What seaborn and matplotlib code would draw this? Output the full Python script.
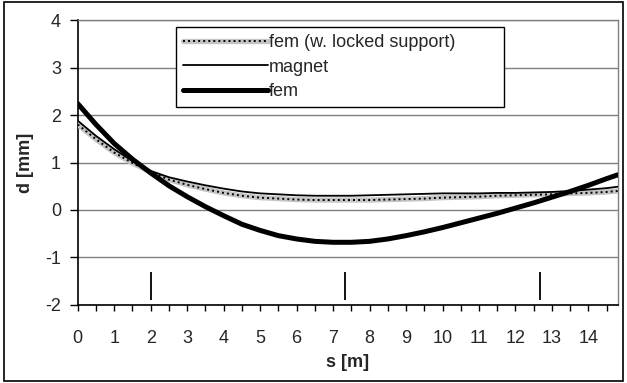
import matplotlib
matplotlib.use("Agg")
import matplotlib.pyplot as plt
from matplotlib.patches import Rectangle
from matplotlib.lines import Line2D
from matplotlib.legend_handler import HandlerTuple
from matplotlib.ticker import MultipleLocator
import numpy as np
import pandas as pd
import seaborn as sns

# ---- data ----
s = [0, 0.5, 1, 1.5, 2, 2.5, 3, 3.5, 4, 4.5, 5, 5.5, 6, 6.5, 7, 7.5, 8, 8.5,
     9, 9.5, 10, 10.5, 11, 11.5, 12, 12.5, 13, 13.5, 14, 14.5, 14.8]
fem = [2.24, 1.80, 1.40, 1.07, 0.78, 0.51, 0.28, 0.07, -0.12, -0.30, -0.43,
       -0.54, -0.61, -0.66, -0.68, -0.68, -0.66, -0.61, -0.54, -0.46, -0.37,
       -0.27, -0.17, -0.07, 0.04, 0.15, 0.27, 0.39, 0.52, 0.66, 0.74]
magnet = [1.88, 1.56, 1.28, 1.03, 0.82, 0.69, 0.60, 0.52, 0.45, 0.39, 0.35,
          0.33, 0.31, 0.30, 0.30, 0.30, 0.31, 0.32, 0.33, 0.34, 0.35, 0.35,
          0.35, 0.36, 0.36, 0.37, 0.38, 0.40, 0.43, 0.46, 0.49]
fem_locked = [1.80, 1.49, 1.21, 0.99, 0.80, 0.64, 0.53, 0.44, 0.36, 0.30,
              0.26, 0.24, 0.22, 0.21, 0.21, 0.21, 0.21, 0.22, 0.23, 0.24,
              0.26, 0.27, 0.28, 0.30, 0.31, 0.32, 0.33, 0.35, 0.36, 0.38, 0.40]
supports = [2.0, 7.32, 12.68]
support_lo, support_hi = -1.9, -1.3
xticks = list(range(0, 15))
yticks = [-2, -1, 0, 1, 2, 3, 4]
labels = ["fem (w. locked support)", "magnet", "fem"]

df = pd.DataFrame({"s": s, "fem": fem, "magnet": magnet, "locked": fem_locked})

sns.set_style("white")
plt.rcParams["font.family"] = ["Liberation Sans", "DejaVu Sans"]
plt.rcParams["axes.unicode_minus"] = False

FS = 13

fig = plt.figure(figsize=(6.27, 3.83), dpi=100)
ax = fig.add_axes([0.124, 0.2037, 0.861, 0.744])

# locked support: gray band with black dots
sns.lineplot(data=df, x="s", y="locked", ax=ax, color="#c4c4c4", lw=3.8, zorder=3)
sns.lineplot(data=df, x="s", y="locked", ax=ax, color="black", lw=1.4, zorder=3.1)
ax.lines[-1].set_dashes([1.0, 1.6])
sns.lineplot(data=df, x="s", y="magnet", ax=ax, color="black", lw=1.3, zorder=4)
sns.lineplot(data=df, x="s", y="fem", ax=ax, color="black", lw=3.6, zorder=5)

ax.vlines(supports, support_lo, support_hi, color="black", lw=1.3, zorder=5)

ax.set_xlim(0, 14.8)
ax.set_ylim(-2, 4)
ax.set_xticks(xticks)
ax.xaxis.set_minor_locator(MultipleLocator(0.5))
ax.set_yticks(yticks)
ax.tick_params(axis="x", which="both", direction="out", length=4, width=1,
               color="black", pad=14, labelsize=FS, bottom=True)
ax.tick_params(axis="y", which="both", direction="out", length=6, width=1,
               color="black", pad=6, labelsize=FS, left=True)
ax.grid(axis="y", color="#808080", lw=1)
ax.grid(axis="x", visible=False)
ax.set_axisbelow(True)

for side in ["left", "bottom"]:
    ax.spines[side].set_color("black")
    ax.spines[side].set_linewidth(1.2)
for side in ["top", "right"]:
    ax.spines[side].set_color("#808080")
    ax.spines[side].set_linewidth(1.0)

ax.set_xlabel("s [m]", fontsize=FS, fontweight="bold")
ax.set_ylabel("d [mm]", fontsize=FS, fontweight="bold")
ax.xaxis.set_label_coords(0.5, -0.2035)
ax.xaxis.label.set_va("center")
ax.yaxis.set_label_coords(-0.0976, 0.5)
ax.yaxis.label.set_va("center")

h_locked = (Line2D([], [], color="#c4c4c4", lw=3.8),
            Line2D([], [], color="black", lw=1.4, dashes=[1.0, 1.6]))
h_mag = Line2D([], [], color="black", lw=1.3)
h_fem = Line2D([], [], color="black", lw=3.6)
leg = ax.legend([h_locked, h_mag, h_fem], labels,
                handler_map={tuple: HandlerTuple(ndivide=1, pad=0)},
                loc="upper left", bbox_to_anchor=(0.1815, 0.676, 0.6075, 0.3005),
                mode="expand", borderaxespad=0, fontsize=FS, handlelength=4.7,
                handletextpad=0.05, labelspacing=0.42, borderpad=0.4,
                fancybox=False, framealpha=1, edgecolor="black")
leg.get_frame().set_linewidth(1.0)
leg.set_zorder(10)

fig.patches.append(Rectangle((4 / 627, 2 / 383), 619 / 627, 379 / 383,
                             transform=fig.transFigure, fill=False,
                             ec="black", lw=1.2))

fig.savefig("out.png", dpi=100)
